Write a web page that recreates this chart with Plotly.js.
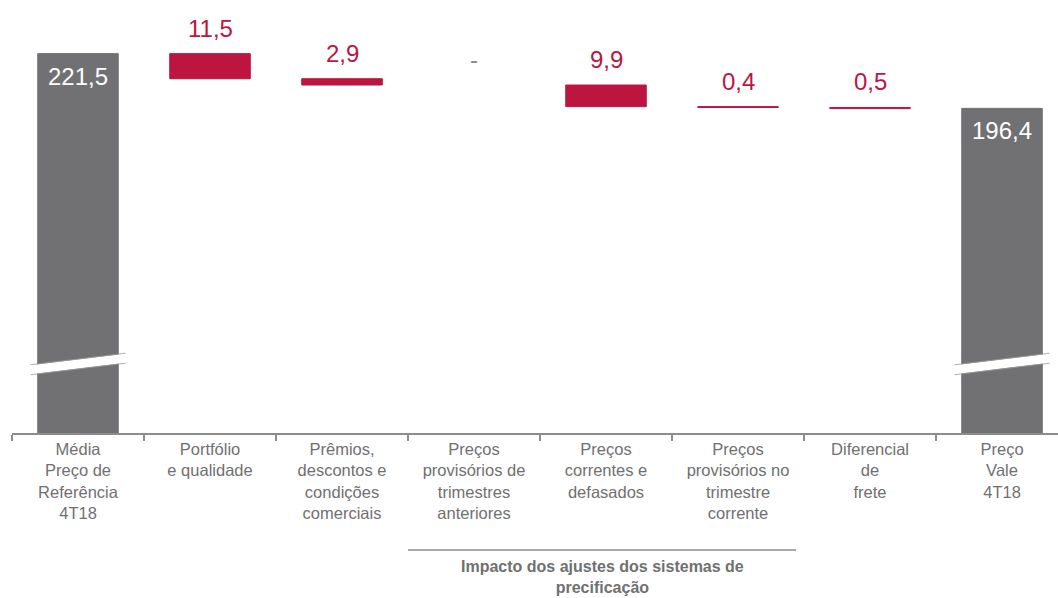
<!DOCTYPE html>
<html>
<head>
<meta charset="utf-8">
<script src="https://cdn.plot.ly/plotly-3.0.1.min.js"></script>
<style>
  html, body { margin: 0; padding: 0; background: #fff; }
  #chart { width: 1058px; height: 598px; }
</style>
</head>
<body>
<div id="chart"></div>
<script>
const categories = [
  "Média<br>Preço de<br>Referência<br>4T18",
  "Portfólio<br>e qualidade",
  "Prêmios,<br>descontos e<br>condições<br>comerciais",
  "Preços<br>provisórios de<br>trimestres<br>anteriores",
  "Preços<br>correntes e<br>defasados",
  "Preços<br>provisórios no<br>trimestre<br>corrente",
  "Diferencial<br>de<br>frete",
  "Preço<br>Vale<br>4T18",
];
const measures = ["absolute", "relative", "relative", "relative", "relative", "relative", "relative", "absolute"];
const values = [221.5, -11.5, -2.9, 0, -9.9, -0.4, -0.5, 196.4];
const valueLabels = ["221,5", "11,5", "2,9", "-", "9,9", "0,4", "0,5", "196,4"];
const groupTitle = "<b>Impacto dos ajustes dos sistemas de<br>precificação</b>";

const GRAY = "#717174";
const RED = "#bc1540";
const TEXT = "#707070";
const FONT = "Liberation Sans, Arial, sans-serif";

// axis is broken: it starts well above zero
const yRange = [47.5, 246.1];
const breakLow = 76.5, breakHigh = 81.8;

// running waterfall: bases and heights from the values
let level = 0;
const bases = [], heights = [];
values.forEach((v, i) => {
  if (measures[i] === "absolute") {
    bases.push(0); heights.push(v); level = v;
  } else {
    bases.push(level + Math.min(v, 0));
    heights.push(Math.abs(v));
    level += v;
  }
});

const trace = {
  type: "bar",
  x: categories,
  y: heights,
  base: bases,
  marker: {
    color: measures.map((m) => m === "absolute" ? GRAY : RED),
    line: {
      color: measures.map((m) => m === "absolute" ? GRAY : RED),
      width: values.map((v) => v === 0 ? 0 : 1),
    },
  },
  hoverinfo: "skip",
};

// value labels: white inside the gray bars, red above the steps
const labelNotes = valueLabels.map((t, i) => {
  const top = bases[i] + heights[i];
  const isTotal = measures[i] === "absolute";
  return {
    xref: "x", yref: "y", x: categories[i], y: top,
    text: t, showarrow: false,
    yanchor: isTotal ? "top" : "bottom",
    yshift: isTotal ? -7 : 10,
    font: {
      size: 24,
      family: FONT,
      color: isTotal ? "#ffffff" : (values[i] === 0 ? "#8a8a8a" : RED),
    },
  };
});

// white slanted break marks on the two gray bars
const breakShapes = [];
measures.forEach((m, i) => {
  if (m !== "absolute") return;
  breakShapes.push({
    type: "line", xref: "x", yref: "y",
    x0: i - 0.36, x1: i + 0.36, y0: breakLow, y1: breakHigh,
    line: { color: "#ffffff", width: 9 },
  });
  [-2.3, 2.3].forEach((d) => {
    breakShapes.push({
      type: "line", xref: "x", yref: "y",
      x0: i - 0.36, x1: i + 0.36, y0: breakLow + d, y1: breakHigh + d,
      line: { color: "#9a9a9a", width: 0.8 },
    });
  });
});

const layout = {
  width: 1058,
  height: 598,
  margin: { l: 12, r: 0, t: 0, b: 165 },
  paper_bgcolor: "#ffffff",
  plot_bgcolor: "#ffffff",
  showlegend: false,
  bargap: 0.39,
  font: { family: FONT, color: TEXT },
  xaxis: {
    type: "category",
    range: [-0.5, 7.424],
    showline: true,
    linecolor: "#8c8c8c",
    linewidth: 2,
    ticks: "outside",
    tickson: "boundaries",
    ticklen: 6,
    tickcolor: "#8c8c8c",
    tickwidth: 1.5,
    tickfont: { size: 16.5, color: TEXT },
    showgrid: false,
    zeroline: false,
  },
  yaxis: {
    range: yRange,
    visible: false,
    showgrid: false,
    zeroline: false,
  },
  shapes: breakShapes.concat([
    {
      type: "line", xref: "x", yref: "paper",
      x0: 2.5, x1: 5.44, y0: -0.27, y1: -0.27,
      line: { color: "#8c8c8c", width: 1.5 },
    },
  ]),
  annotations: labelNotes.concat([
    {
      xref: "x", yref: "paper", x: 3.97, y: -0.285,
      yanchor: "top", showarrow: false,
      text: groupTitle,
      font: { size: 16, color: TEXT },
    },
  ]),
};

Plotly.newPlot("chart", [trace], layout, { staticPlot: true });
</script>
</body>
</html>
